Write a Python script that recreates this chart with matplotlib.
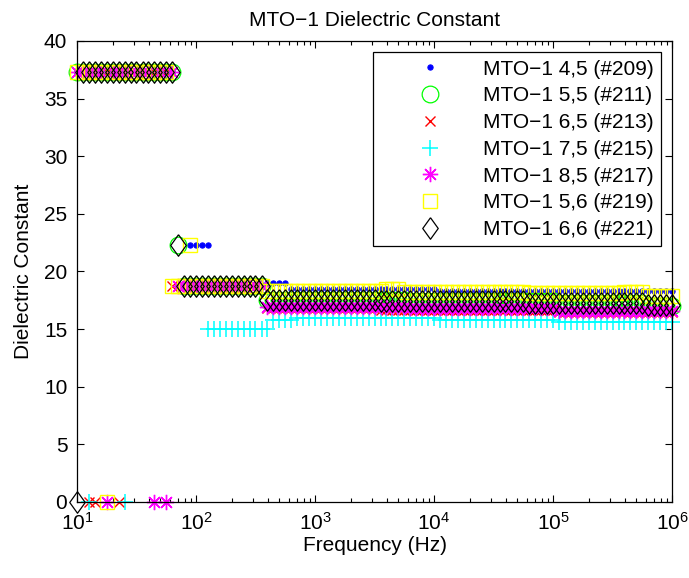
import numpy as np
import matplotlib
matplotlib.use("Agg")
import matplotlib.pyplot as plt
from matplotlib.ticker import LogLocator, NullFormatter, MultipleLocator

plt.rcParams['font.family'] = ['Liberation Sans', 'DejaVu Sans']
plt.rcParams['mathtext.fontset'] = 'custom'
plt.rcParams['mathtext.rm'] = 'Liberation Sans'
plt.rcParams['mathtext.default'] = 'regular'
plt.rcParams['font.size'] = 15

nan = np.nan

# frequency sweep, 20 points per decade from 10 Hz to 1 MHz
mantissa = [1.00, 1.12, 1.26, 1.41, 1.58, 1.78, 2.00, 2.24, 2.51, 2.82,
            3.16, 3.55, 3.98, 4.47, 5.01, 5.62, 6.31, 7.08, 7.94, 8.91]
decades = [1e1, 1e2, 1e3, 1e4, 1e5]
freq = [m * d for d in decades for m in mantissa] + [1e6]

# dielectric constant per sample (one value per sweep point, nan = no reading)
eps_209 = ([37.3] * 17 + [18.7] * 2 + [22.3] * 4 + [18.7] * 9
           + [19.0] * 4 + [18.5] * 25 + [18.3] * 40)
eps_211 = ([37.3] * 17 + [22.3] + [18.7] * 14
           + [17.5] * 24 + [17.4] * 25 + [17.3] * 15 + [17.0] * 5)
eps_213 = ([37.3] * 2 + [0.0] * 2 + [37.3] * 3 + [0.0] + [37.3] * 8
           + [18.7] * 16 + [16.8] * 19 + [16.7] * 30 + [16.5] * 20)
eps_215 = ([nan] * 2 + [0.0] + [nan] * 5 + [0.0] + [nan] * 13
           + [15.0] * 11 + [15.8] * 4 + [16.0] * 24 + [15.8] * 20 + [15.6] * 20)
eps_217 = ([37.3] * 5 + [0.0] + [37.3] * 7 + [0.0] + [37.3] + [0.0] + [37.3]
           + [18.7] * 15 + [16.9] * 24 + [16.8] * 25 + [16.6] * 20)
eps_219 = ([37.3] * 5 + [0.0] + [37.3] * 10 + [18.7] * 3 + [22.3] + [18.7] * 12
           + [18.3] * 20 + [18.5] * 3 + [18.2] * 21 + [18.1] * 16
           + [18.2] * 4 + [17.9] * 5)
eps_221 = ([0.0] + [37.3] * 16 + [22.3] + [18.7] * 14
           + [17.5] * 19 + [17.4] * 25 + [17.3] * 20 + [17.1] * 5)

labels = ['MTO\u22121 4,5 (#209)', 'MTO\u22121 5,5 (#211)', 'MTO\u22121 6,5 (#213)',
          'MTO\u22121 7,5 (#215)', 'MTO\u22121 8,5 (#217)', 'MTO\u22121 5,6 (#219)',
          'MTO\u22121 6,6 (#221)']

# open diamond, a bit taller than wide
diamond = [(0, 1), (0.72, 0), (0, -1), (-0.72, 0), (0, 1)]
# eight-spoke asterisk (plus and cross together)
asterisk = (8, 2, 0)

styles = [
    dict(marker='.', color='b', ms=7.5, mew=0.8),
    dict(marker='o', color=(0, 1, 0), ms=12, mfc='none', mew=0.9),
    dict(marker='x', color='r', ms=7.5, mew=1.0),
    dict(marker='+', color=(0, 1, 1), ms=11.5, mew=1.1),
    dict(marker=asterisk, color=(1, 0, 1), ms=11, mew=1.0),
    dict(marker='s', color=(1, 1, 0), ms=9.5, mfc='none', mew=1.0),
    dict(marker=diamond, color='k', ms=15.5, mfc='none', mew=0.9),
]
series = [eps_209, eps_211, eps_213, eps_215, eps_217, eps_219, eps_221]

fig = plt.figure(figsize=(6.89, 5.78), dpi=100)
ax = fig.add_axes([0.1118, 0.1315, 0.8636, 0.7976])

for y, lab, st in zip(series, labels, styles):
    ax.semilogx(freq, y, linestyle='none', clip_on=False, label=lab, **st)

ax.set_xlim(10, 1e6)
ax.set_ylim(0, 40)
ax.yaxis.set_major_locator(MultipleLocator(5))
ax.xaxis.set_major_locator(LogLocator(base=10, numticks=10))
ax.xaxis.set_minor_locator(LogLocator(base=10, subs=np.arange(2, 10), numticks=20))
ax.xaxis.set_minor_formatter(NullFormatter())

ax.tick_params(which='both', direction='in', top=True, right=True, width=0.8)
ax.tick_params(which='major', length=5, pad=7)
ax.tick_params(which='minor', length=3)
for sp in ax.spines.values():
    sp.set_linewidth(0.9)

ax.set_title('MTO\u22121 Dielectric Constant', fontsize=15, pad=11)
ax.set_xlabel('Frequency (Hz)', fontsize=15, labelpad=2)
ax.set_ylabel('Dielectric Constant', fontsize=15, labelpad=8)

leg = ax.legend(loc='upper right', numpoints=1, fontsize=15, fancybox=False,
                edgecolor='k', framealpha=1, borderaxespad=0.55, borderpad=0.35,
                labelspacing=0.37, handlelength=4.8, handletextpad=0.1)
leg.get_frame().set_linewidth(0.9)

fig.savefig('out.png', dpi=100)
